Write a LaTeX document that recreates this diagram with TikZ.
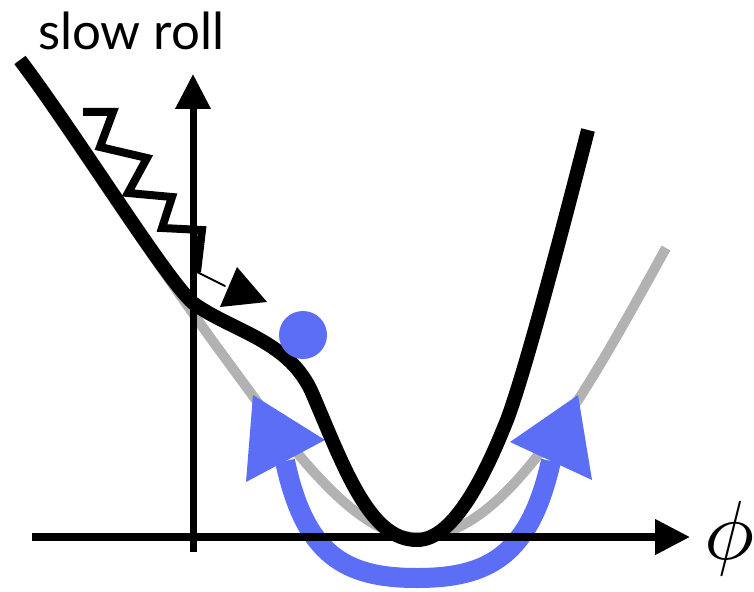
\documentclass[tikz,border=0pt]{standalone}
\usepackage{fontspec}
\newfontfamily\labelfont{Lato}
\usetikzlibrary{arrows.meta}
\definecolor{chalkblue}{RGB}{92,110,246}
\definecolor{quadgray}{RGB}{178,178,178}
\begin{document}
\begin{tikzpicture}[x=1pt,y=-1pt,>={Triangle[length=35pt,width=34pt]},line join=round,line cap=round]
	\useasboundingbox (0,0) rectangle (754,591);
	% quadratic potential
	\draw[quadgray,line width=10pt,line cap=butt] (20,60) .. controls (90,165) and (165,275) .. (217,347) .. controls (280,432) and (350,537) .. (417,537) .. controls (480,537) and (530,470) .. (580,397) .. controls (610,350) and (640,295) .. (666,248);
	% kicks
	\draw[chalkblue,line width=20pt,line cap=butt] (285,461) .. controls (305,555) and (345,578) .. (417,578) .. controls (489,578) and (530,555) .. (551,461);
	\fill[chalkblue] (253,395)--(246,482)--(325,440)--cycle (578,395)--(592,480)--(510,442)--cycle;
	% axes
	\draw[->,line width=7.5pt,line cap=butt] (32,537)--(690,537);
	\draw[->,line width=7pt,line cap=butt] (193,552)--(193,74);
	% deformed potential
	\draw[line width=14pt,line cap=butt] (20,60) .. controls (80,140) and (165,278) .. (193,303) .. controls (233,332) and (290,340) .. (313,395) .. controls (345,470) and (370,540) .. (417,540) .. controls (455,540) and (487,470) .. (507,420) .. controls (527,367) and (570,200) .. (588,130);
	\fill[chalkblue] (303,335) circle (24);
	% zigzag
	\draw[line width=8pt,line join=miter,line cap=butt] (83,112)--(113,112)--(100,147)--(147,158)--(128,193)--(172,197)--(162,228)--(202,230)--(197,272);
	\draw[line width=2pt] (197,272)--(225,286);
	\fill (237,267)--(220,307)--(267,302)--cycle;
	\node[anchor=base west,inner sep=0pt,font=\labelfont\fontsize{51}{56}\selectfont] (title) at (38,50) {slow roll};
	\node[scale=8.4,inner sep=0pt] (phi) at (730,538) {$\phi$};
\end{tikzpicture}
\end{document}
